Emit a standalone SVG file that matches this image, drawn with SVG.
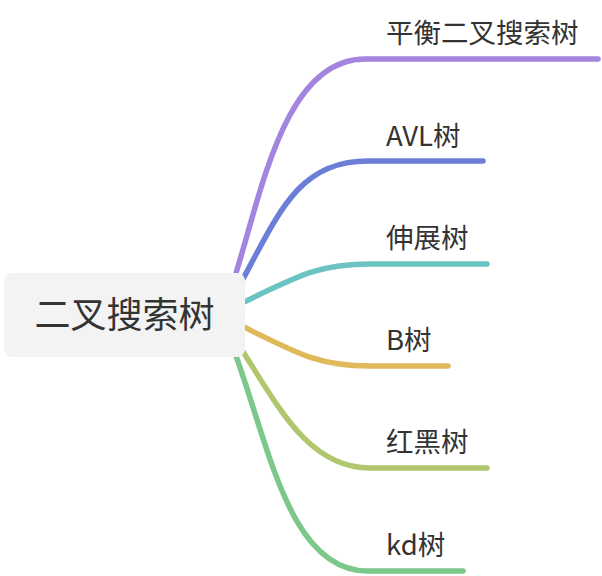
<svg xmlns="http://www.w3.org/2000/svg" width="602" height="576" viewBox="0 0 602 576">
<style>
.br{fill:none;stroke-width:5.5;stroke-linecap:round}
.lb{font-family:"Noto Sans CJK SC","Microsoft YaHei",sans-serif;font-size:27.5px;fill:#333}
.rt{font-family:"Noto Sans CJK SC","Microsoft YaHei",sans-serif;font-size:36px;fill:#333}
</style>
<rect width="602" height="576" fill="#fff"/>
<g id="connectors">
<path class="br" stroke="#a384de" d="M236,273 C262,190 285,59 365,59 L598,59"/>
<path class="br" stroke="#6c7fd8" d="M243,279 C280,210 300,161 368,161 L483,161"/>
<path class="br" stroke="#6cc4c2" d="M244,302 C300,275 320,264 370,264 L487,264"/>
<path class="br" stroke="#e0b95b" d="M244,327 C300,355 320,366 370,366 L448,366"/>
<path class="br" stroke="#b1c76d" d="M242,350 C280,410 310,468 370,468 L487,468"/>
<path class="br" stroke="#7cc88a" d="M236,356 C270,450 290,571 368,571 L463,571"/>
</g>
<g id="root">
<rect x="4" y="273" width="241" height="84" rx="8" fill="#f3f3f3"/>
<text class="rt" x="124.5" y="328" text-anchor="middle">二叉搜索树</text>
</g>
<g id="n1"><text class="lb" x="386" y="43">平衡二叉搜索树</text></g>
<g id="n2"><text class="lb" x="386" y="146">AVL树</text></g>
<g id="n3"><text class="lb" x="386" y="248">伸展树</text></g>
<g id="n4"><text class="lb" x="386" y="350">B树</text></g>
<g id="n5"><text class="lb" x="386" y="452">红黑树</text></g>
<g id="n6"><text class="lb" x="386" y="555">kd树</text></g>
</svg>
